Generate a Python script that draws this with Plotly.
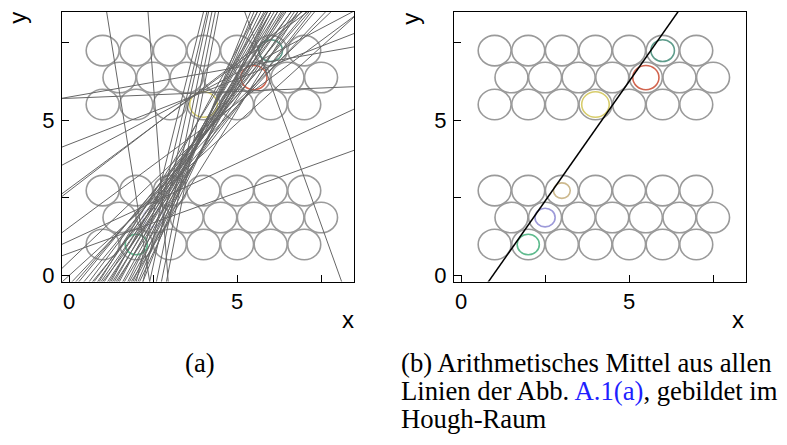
import plotly.graph_objects as go

# ---------------- data ----------------
# hexagonal grid of gray circles (row heights, horizontal shift per row, column positions)
row_y = [1.0, 1.866, 2.732, 5.5, 6.366, 7.232]
row_shift = [0.0, 0.5, 0.0, 0.0, 0.5, 0.0]
col_x = [1, 2, 3, 4, 5, 6, 7]
circle_r = 0.49

# coloured (detected) circles
mark_x = [2.0, 2.5, 3.0, 4.0, 5.5, 6.0]
mark_y = [1.0, 1.866, 2.732, 5.5, 6.366, 7.232]
mark_r = [0.33, 0.30, 0.25, 0.41, 0.39, 0.35]
mark_color = ["#5fbb8e", "#9d9ad9", "#cdb98e", "#d8cd6c", "#d2654f", "#5e9c8b"]
mark_opacity_a = [1.0, 0.35, 0.35, 1.0, 1.0, 1.0]

# candidate lines in (a): y = slope * x + intercept
line_slope = [1.312, 1.312, 1.443, 1.431, 1.560, 1.533, 1.682, 1.634, 1.804, 1.732,
              1.903, 1.862, 2.014, 1.968, 1.843, 2.192, 1.968, 2.341, 2.138, 2.510,
              2.279, 1.397, 1.312, 1.634, 1.749, 2.706, 1.991, 1.749,
              4.330, 4.558, 4.949, 5.248, 5.413, 5.587,
              1.03, 0.39, 0.50, 0.80, 0.83, 0.80, 0.57, 0.42, 0.19, 0.044,
              -6.77, -14.43, -3.007,
              0.98, 1.15, 1.25]
line_intercept = [-0.58, -0.78, -1.06, -1.26, -1.52, -1.65, -1.96, -2.07, -2.36, -2.44,
                  -2.76, -2.89, -3.21, -3.34, -3.23, -4.03, -3.73, -4.64, -4.36, -5.34,
                  -4.98, -1.59, -1.11, -2.48, -3.43, -6.14, -2.68, -1.76,
                  -8.85, -10.22, -12.07, -13.84, -15.08, -16.39,
                  0.45, 0.72, 1.11, 1.55, 2.72, 2.80, 3.67, 4.22, 5.74, 5.70,
                  16.05, 42.38, 24.20,
                  0.0, -0.30, -0.45]

# mean line in (b)
mean_slope = 1.538
mean_intercept = -1.45

tick_vals = [0, 2.5, 5, 7.5]
tick_text = ["0", "", "5", ""]
x_range = [-0.21, 8.48]
y_range = [-0.19, 8.47]

W, H = 787, 445

# ---------------- figure ----------------
fig = go.Figure()

# lines of (a)
lx, ly = [], []
for m, b in zip(line_slope, line_intercept):
    for xv in (-1.0, 10.0):
        lx.append(xv)
        ly.append(m * xv + b)
    lx.append(None)
    ly.append(None)
fig.add_trace(go.Scatter(x=lx, y=ly, mode="lines", xaxis="x", yaxis="y",
                         line=dict(color="#666666", width=1), hoverinfo="skip",
                         showlegend=False))

# mean line of (b)
fig.add_trace(go.Scatter(x=[-1.0, 10.0],
                         y=[mean_slope * -1.0 + mean_intercept, mean_slope * 10.0 + mean_intercept],
                         mode="lines", xaxis="x2", yaxis="y2",
                         line=dict(color="black", width=1.5), hoverinfo="skip",
                         showlegend=False))

shapes = []
for xr, yr in (("x", "y"), ("x2", "y2")):
    for ry, sh in zip(row_y, row_shift):
        for cx in col_x:
            c = cx + sh
            shapes.append(dict(type="circle", xref=xr, yref=yr, layer="below",
                               x0=c - circle_r, x1=c + circle_r,
                               y0=ry - circle_r, y1=ry + circle_r,
                               line=dict(color="#9a9a9a", width=1.6)))
    for i, (cx, cy, r, col) in enumerate(zip(mark_x, mark_y, mark_r, mark_color)):
        op = mark_opacity_a[i] if xr == "x" else 1.0
        shapes.append(dict(type="circle", xref=xr, yref=yr, layer="below",
                           x0=cx - r, x1=cx + r, y0=cy - r, y1=cy + r,
                           opacity=op,
                           line=dict(color=col, width=1.6)))

dom_y = [1 - 286 / H, 1 - 12.3 / H]
axis_common = dict(range=None, tickvals=tick_vals, ticktext=tick_text, ticks="inside",
                   ticklen=7, tickwidth=1, tickcolor="black", showline=True,
                   linecolor="black", linewidth=1, mirror=True, showgrid=False,
                   zeroline=False, fixedrange=True,
                   tickfont=dict(family="Liberation Sans, Arial, sans-serif", size=22,
                                 color="black"))

fig.update_layout(
    width=W, height=H,
    margin=dict(l=0, r=0, t=0, b=0),
    paper_bgcolor="white", plot_bgcolor="white",
    showlegend=False,
    xaxis=dict(axis_common, range=x_range, domain=[62 / W, 354 / W], anchor="y"),
    yaxis=dict(axis_common, range=y_range, domain=dom_y, anchor="x", ticklabelstandoff=2),
    xaxis2=dict(axis_common, range=x_range, domain=[454 / W, 746 / W], anchor="y2"),
    yaxis2=dict(axis_common, range=y_range, domain=dom_y, anchor="x2", ticklabelstandoff=2),
    shapes=shapes,
)

sans = dict(family="Liberation Sans, Arial, sans-serif", size=24, color="black")
serif = dict(family="Liberation Serif, Times New Roman, serif", size=26.7, color="black")

ann = []
# axis titles
for (px, py) in ((18, 18), (411, 19)):
    ann.append(dict(text="y", x=px / W, y=1 - py / H, xref="paper", yref="paper",
                    showarrow=False, textangle=-90, font=sans,
                    xanchor="center", yanchor="middle"))
for (px, py) in ((348, 325), (738, 325)):
    ann.append(dict(text="x", x=px / W, y=1 - py / H, xref="paper", yref="paper",
                    showarrow=False, font=sans, xanchor="center", yanchor="middle"))

# captions
ann.append(dict(text="(a)", x=200 / W, y=1 - 369 / H, xref="paper", yref="paper",
                showarrow=False, font=serif, xanchor="center", yanchor="middle"))
cap_lines = ["(b) Arithmetisches Mittel aus allen",
             "Linien der Abb. <span style='color:#1f1fff'>A.1(a)</span>, gebildet im",
             "Hough-Raum"]
for i, t in enumerate(cap_lines):
    ann.append(dict(text=t, x=399 / W, y=1 - (369 + 28.5 * i) / H, xref="paper",
                    yref="paper", showarrow=False, font=serif, xanchor="left",
                    yanchor="middle"))
fig.update_layout(annotations=ann)

fig.write_html("out.html")
